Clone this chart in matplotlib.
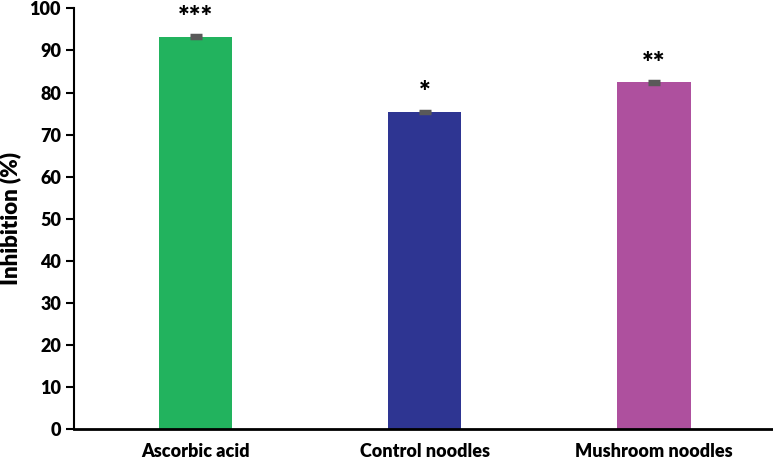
import matplotlib.pyplot as plt

plt.rcParams['font.family'] = ['Lato', 'DejaVu Sans']
plt.rcParams['font.weight'] = 'heavy'

categories = ["Ascorbic acid", "Control noodles", "Mushroom noodles"]
inhibition = [93.3, 75.4, 82.4]
errors = [0.3, 0.3, 0.3]
stars = ["***", "*", "**"]
bar_colors = ['#22B35E', '#2E3592', '#AE509E']

fig, ax = plt.subplots(figsize=(7.73, 4.63), dpi=100)
fig.subplots_adjust(left=0.096, right=1.0, bottom=0.073, top=0.982)

x = range(len(categories))
ax.bar(x, inhibition, width=0.32, color=bar_colors, zorder=2)
ax.errorbar(x, inhibition, yerr=errors, fmt='none', ecolor='#595959',
            elinewidth=1.2, capsize=4, capthick=2.5, zorder=3)

for i, (v, s) in enumerate(zip(inhibition, stars)):
    ax.text(i, v + 4.4, s, ha='center', va='center', fontsize=20, fontweight='heavy')

ax.set_xlim(-0.53, 2.52)
ax.set_ylim(0, 100)
ax.set_yticks(range(0, 101, 10))
ax.set_xticks(list(x))
ax.set_xticklabels(categories)
ax.tick_params(axis='x', length=0, pad=10, labelsize=13)
ax.tick_params(axis='y', direction='out', length=6, width=1.5, labelsize=13)
ax.set_ylabel('Inhibition (%)', fontsize=16, fontweight='heavy', labelpad=6)

for side in ['top', 'right']:
    ax.spines[side].set_visible(False)
ax.spines['left'].set_linewidth(1.5)
ax.spines['bottom'].set_linewidth(2)

plt.savefig('out.png', dpi=100)
